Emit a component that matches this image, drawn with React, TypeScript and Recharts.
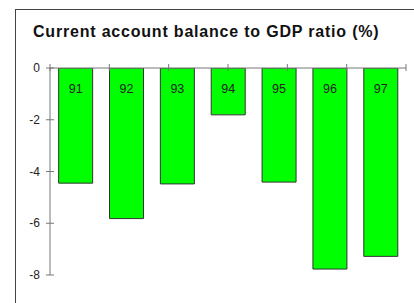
import { BarChart, Bar, XAxis, YAxis, LabelList } from "recharts";

const years = ["91", "92", "93", "94", "95", "96", "97"];
const balance = [-4.45, -5.82, -4.48, -1.81, -4.41, -7.77, -7.28];
const yTicks = [0, -2, -4, -6, -8];
const bandEdges = [0, 1, 2, 3, 4, 5, 6, 7];

const data = years.map((year, i) => ({ year, value: balance[i] }));

const AXIS = "#777";
const FONT = "'Liberation Sans', Arial, sans-serif";

const YTick = (props: any) => {
  const { x, y, payload } = props;
  return (
    <g>
      <line x1={x - 4} x2={x + 4} y1={y} y2={y} stroke={AXIS} />
      <text x={x - 10} y={y} textAnchor="end" dominantBaseline="central" fontSize={12} fill="#222" fontFamily={FONT}>
        {payload.value}
      </text>
    </g>
  );
};

const XTick = (props: any) => {
  const { x, y } = props;
  return <line x1={x} x2={x} y1={y - 4} y2={y + 3} stroke={AXIS} />;
};

const BarLabel = (props: any) => {
  const { x, y, width, height, value } = props;
  const top = Math.min(y, y + height);
  return (
    <text x={x + width / 2} y={top + 20.5} textAnchor="middle" dominantBaseline="central" fontSize={12.5} fill="#222" fontFamily={FONT}>
      {value}
    </text>
  );
};

export default function App() {
  return (
    <div style={{ position: "absolute", left: 0, top: 0, width: 414, height: 303, overflow: "hidden", background: "#fff" }}>
      <div style={{ position: "absolute", left: 15, top: 9, width: 420, height: 320, border: "1px solid #444" }} />
      <div
        style={{
          position: "absolute",
          left: 33,
          top: 23,
          fontFamily: FONT,
          fontWeight: "bold",
          fontSize: 16,
          letterSpacing: 0.8,
          color: "#111",
          whiteSpace: "nowrap",
        }}
      >
        Current account balance to GDP ratio (%)
      </div>
      <div style={{ position: "absolute", left: 0, top: 0 }}>
        <BarChart width={414} height={303} data={data} margin={{ top: 67, right: 8, bottom: 28, left: 0 }} barCategoryGap="17%">
          <XAxis xAxisId="cat" dataKey="year" hide />
          <XAxis
            xAxisId="edge"
            type="number"
            orientation="top"
            domain={[0, 7]}
            ticks={bandEdges}
            allowDataOverflow
            height={1}
            tickSize={0}
            tickMargin={0}
            tickLine={false}
            axisLine={{ stroke: AXIS }}
            tick={<XTick />}
            interval={0}
          />
          <YAxis
            width={50}
            domain={[-8, 0]}
            ticks={yTicks}
            allowDataOverflow
            tickSize={0}
            tickMargin={0}
            tickLine={false}
            axisLine={{ stroke: AXIS }}
            tick={<YTick />}
            interval={0}
          />
          <Bar xAxisId="cat" dataKey="value" fill="#00ff00" stroke="#333" strokeWidth={1} isAnimationActive={false}>
            <LabelList dataKey="year" content={<BarLabel />} />
          </Bar>
        </BarChart>
      </div>
    </div>
  );
}
